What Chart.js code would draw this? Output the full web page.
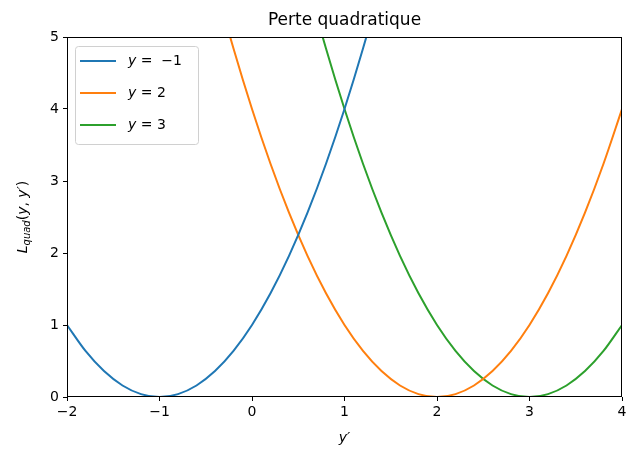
<!DOCTYPE html>
<html>
<head>
<meta charset="utf-8">
<script src="https://cdn.jsdelivr.net/npm/chart.js@4"></script>
<style>
  html, body { margin: 0; padding: 0; background: #fff; }
  #wrap { width: 626px; height: 451px; }
</style>
</head>
<body>
<div id="wrap"><canvas id="lossChart" width="626" height="451"></canvas></div>
<script>
// y' values (x axis)
const yPrime = [-2, -1.8, -1.6, -1.4, -1.2, -1, -0.8, -0.6, -0.4, -0.2, 0, 0.2, 0.4, 0.6, 0.8, 1,
  1.2, 1.4, 1.6, 1.8, 2, 2.2, 2.4, 2.6, 2.8, 3, 3.2, 3.4, 3.6, 3.8, 4];

// loss values
const lossYm1 = [1, 0.64, 0.36, 0.16, 0.04, 0, 0.04, 0.16, 0.36, 0.64, 1, 1.44, 1.96, 2.56, 3.24, 4,
  4.84, 5.76, 6.76, 7.84, 9, 10.24, 11.56, 12.96, 14.44, 16, 17.64, 19.36, 21.16, 23.04, 25];
const lossY2 = [16, 14.44, 12.96, 11.56, 10.24, 9, 7.84, 6.76, 5.76, 4.84, 4, 3.24, 2.56, 1.96, 1.44, 1,
  0.64, 0.36, 0.16, 0.04, 0, 0.04, 0.16, 0.36, 0.64, 1, 1.44, 1.96, 2.56, 3.24, 4];
const lossY3 = [25, 23.04, 21.16, 19.36, 17.64, 16, 14.44, 12.96, 11.56, 10.24, 9, 7.84, 6.76, 5.76, 4.84, 4,
  3.24, 2.56, 1.96, 1.44, 1, 0.64, 0.36, 0.16, 0.04, 0, 0.04, 0.16, 0.36, 0.64, 1];

const seriesNames = ['−1', '2', '3'];
const colors = ['#1f77b4', '#ff7f0e', '#2ca02c'];
const xTicks = [-2, -1, 0, 1, 2, 3, 4];
const yTicks = [0, 1, 2, 3, 4, 5];

const FONT = '"DejaVu Sans", sans-serif';

const toPoints = (vals) => vals.map((v, i) => ({ x: yPrime[i], y: v }));

const datasets = [lossYm1, lossY2, lossY3].map((vals, i) => ({
  label: 'y = ' + seriesNames[i],
  data: toPoints(vals),
  borderColor: colors[i],
  borderWidth: 2,
  pointRadius: 0,
  fill: false,
  cubicInterpolationMode: 'monotone'
}));

// frame, title, axis labels and legend drawn like matplotlib
const decor = {
  id: 'decor',
  afterDraw(chart) {
    const { ctx, chartArea: a } = chart;
    ctx.save();
    ctx.strokeStyle = '#000';
    ctx.lineWidth = 1;
    ctx.strokeRect(Math.round(a.left) + 0.5, Math.round(a.top) + 0.5,
      Math.round(a.right - a.left) - 1, Math.round(a.bottom - a.top) - 1);

    // title
    ctx.fillStyle = '#000';
    ctx.font = '17px ' + FONT;
    ctx.textAlign = 'center';
    ctx.textBaseline = 'alphabetic';
    ctx.fillText('Perte quadratique', (a.left + a.right) / 2, 25);

    // x label
    ctx.font = 'italic 14px ' + FONT;
    ctx.fillText('y′', (a.left + a.right) / 2, 442);

    // y label
    ctx.save();
    ctx.translate(27, 217);
    ctx.rotate(-Math.PI / 2);
    ctx.textAlign = 'left';
    const parts = [
      ['italic 14px ' + FONT, 'L', 0],
      ['italic 10px ' + FONT, 'quad', 3],
      ['14px ' + FONT, '(', 0],
      ['italic 14px ' + FONT, 'y', 0],
      ['14px ' + FONT, ', ', 0],
      ['italic 14px ' + FONT, 'y′', 0],
      ['14px ' + FONT, ')', 0]
    ];
    let w = 0;
    parts.forEach(p => { ctx.font = p[0]; w += ctx.measureText(p[1]).width; });
    let x = -w / 2;
    parts.forEach(p => {
      ctx.font = p[0];
      ctx.fillText(p[1], x, p[2]);
      x += ctx.measureText(p[1]).width;
    });
    ctx.restore();

    // legend
    const lx = a.left + 8, ly = a.top + 9, lw = 123, lh = 98;
    ctx.beginPath();
    ctx.fillStyle = 'rgba(255,255,255,0.8)';
    ctx.strokeStyle = '#d0d0d0';
    ctx.lineWidth = 1;
    if (ctx.roundRect) ctx.roundRect(lx + 0.5, ly + 0.5, lw, lh, 3); else ctx.rect(lx + 0.5, ly + 0.5, lw, lh);
    ctx.fill();
    ctx.stroke();
    seriesNames.forEach((name, i) => {
      const yy = ly + 15 + i * 32;
      ctx.strokeStyle = colors[i];
      ctx.lineWidth = 2;
      ctx.beginPath();
      ctx.moveTo(lx + 5, yy);
      ctx.lineTo(lx + 41, yy);
      ctx.stroke();
      ctx.fillStyle = '#000';
      ctx.textAlign = 'left';
      ctx.textBaseline = 'middle';
      ctx.font = 'italic 14px ' + FONT;
      ctx.fillText('y', lx + 53, yy);
      const yw = ctx.measureText('y').width;
      ctx.font = '14px ' + FONT;
      ctx.fillText(i === 0 ? ' =  ' + name : ' = ' + name, lx + 53 + yw, yy);
    });
    ctx.restore();
  }
};

new Chart(document.getElementById('lossChart'), {
  type: 'line',
  data: { datasets },
  options: {
    responsive: false,
    animation: false,
    events: [],
    layout: { padding: { top: 37, right: 0, left: 0, bottom: 0 } },
    plugins: { legend: { display: false }, tooltip: { enabled: false }, title: { display: false } },
    scales: {
      x: {
        type: 'linear',
        min: -2,
        max: 4,
        afterBuildTicks: s => { s.ticks = xTicks.map(v => ({ value: v })); },
        afterFit: s => { s.height = 54; s.paddingRight = 4; },
        grid: { drawOnChartArea: false, tickLength: 4, color: '#000', tickWidth: 1 },
        border: { display: false },
        ticks: {
          color: '#000',
          font: { family: FONT, size: 14 },
          padding: 3,
          maxRotation: 0,
          callback: v => (v < 0 ? '−' + Math.abs(v) : String(v))
        }
      },
      y: {
        type: 'linear',
        min: 0,
        max: 5,
        afterBuildTicks: s => { s.ticks = yTicks.map(v => ({ value: v })); },
        afterFit: s => { s.width = 67; },
        grid: { drawOnChartArea: false, tickLength: 4, color: '#000', tickWidth: 1 },
        border: { display: false },
        ticks: {
          color: '#000',
          font: { family: FONT, size: 14 },
          padding: 4,
          callback: v => String(v)
        }
      }
    }
  },
  plugins: [decor]
});
</script>
</body>
</html>
